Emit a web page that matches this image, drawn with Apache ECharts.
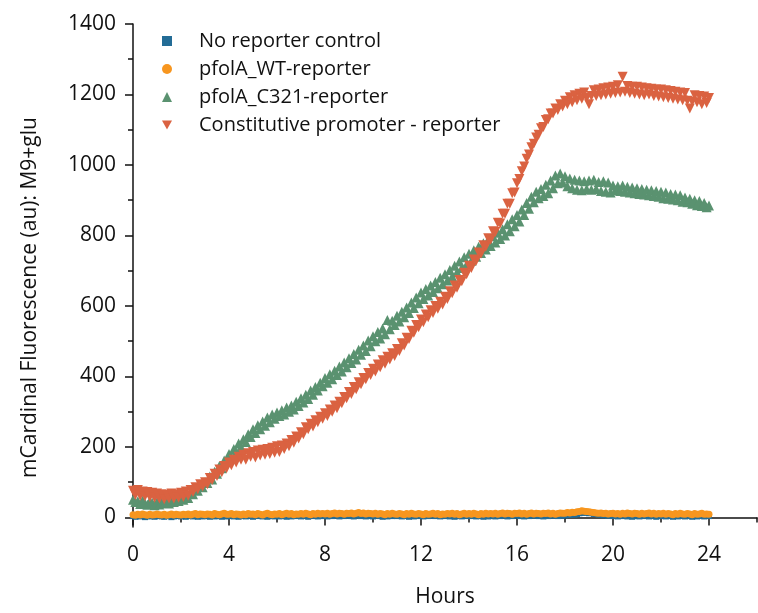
<!DOCTYPE html>
<html>
<head>
<meta charset="utf-8">
<script src="https://cdn.jsdelivr.net/npm/echarts@6/dist/echarts.min.js"></script>
<style>
  html, body { margin: 0; padding: 0; background: #fff; }
  #chart { width: 758px; height: 613px; }
</style>
</head>
<body>
<div id="chart"></div>
<script>
// plate reader time points (hours), one row per hour
let hours = [
  0,0.1,0.2,0.3,0.4,0.5,0.6,0.7,0.8,0.9,
  1,1.1,1.2,1.3,1.4,1.5,1.6,1.7,1.8,1.9,
  2,2.1,2.2,2.3,2.4,2.5,2.6,2.7,2.8,2.9,
  3,3.1,3.2,3.3,3.4,3.5,3.6,3.7,3.8,3.9,
  4,4.1,4.2,4.3,4.4,4.5,4.6,4.7,4.8,4.9,
  5,5.1,5.2,5.3,5.4,5.5,5.6,5.7,5.8,5.9,
  6,6.1,6.2,6.3,6.4,6.5,6.6,6.7,6.8,6.9,
  7,7.1,7.2,7.3,7.4,7.5,7.6,7.7,7.8,7.9,
  8,8.1,8.2,8.3,8.4,8.5,8.6,8.7,8.8,8.9,
  9,9.1,9.2,9.3,9.4,9.5,9.6,9.7,9.8,9.9,
  10,10.1,10.2,10.3,10.4,10.5,10.6,10.7,10.8,10.9,
  11,11.1,11.2,11.3,11.4,11.5,11.6,11.7,11.8,11.9,
  12,12.1,12.2,12.3,12.4,12.5,12.6,12.7,12.8,12.9,
  13,13.1,13.2,13.3,13.4,13.5,13.6,13.7,13.8,13.9,
  14,14.1,14.2,14.3,14.4,14.5,14.6,14.7,14.8,14.9,
  15,15.1,15.2,15.3,15.4,15.5,15.6,15.7,15.8,15.9,
  16,16.1,16.2,16.3,16.4,16.5,16.6,16.7,16.8,16.9,
  17,17.1,17.2,17.3,17.4,17.5,17.6,17.7,17.8,17.9,
  18,18.1,18.2,18.3,18.4,18.5,18.6,18.7,18.8,18.9,
  19,19.1,19.2,19.3,19.4,19.5,19.6,19.7,19.8,19.9,
  20,20.1,20.2,20.3,20.4,20.5,20.6,20.7,20.8,20.9,
  21,21.1,21.2,21.3,21.4,21.5,21.6,21.7,21.8,21.9,
  22,22.1,22.2,22.3,22.4,22.5,22.6,22.7,22.8,22.9,
  23,23.1,23.2,23.3,23.4,23.5,23.6,23.7,23.8,23.9,
  24
];

let noReporter = [
  4,2,5,3,6,1,4,3,5,2,
  4,6,3,2,5,4,1,3,6,4,
  3,5,2,4,6,3,5,2,4,3,
  6,4,2,5,3,7,4,2,5,3,
  4,6,3,5,2,4,6,3,5,4,
  2,5,4,6,3,5,2,4,6,3,
  5,3,6,4,2,5,3,6,4,5,
  3,6,4,2,5,7,4,3,6,4,
  5,3,6,4,7,5,3,6,4,5,
  6,4,3,5,7,4,6,3,5,4,
  3,5,6,4,2,5,3,6,4,5,
  4,6,3,5,4,2,5,3,6,4,
  5,3,6,4,5,7,4,6,3,5,
  4,6,3,5,2,4,6,3,5,4,
  6,4,5,3,6,4,2,5,3,4,
  5,3,6,4,7,5,3,6,4,8,
  6,4,5,3,6,4,7,5,6,4,
  5,3,6,4,7,5,6,4,7,5,
  6,8,7,9,8,10,12,14,13,15,
  12,13,10,11,8,9,6,7,5,6,
  4,6,3,5,4,6,3,5,2,4,
  5,3,6,4,5,3,6,4,2,5,
  4,6,3,5,4,2,5,3,6,4,
  3,5,4,2,5,3,6,4,3,5,
  4
];

let wtReporter = [
  8,6,9,7,10,8,6,9,7,8,
  10,8,7,9,6,8,10,7,9,8,
  7,9,8,10,7,9,11,8,10,9,
  8,10,9,7,11,9,8,10,12,9,
  9,11,8,10,9,7,10,8,11,9,
  10,8,11,9,7,10,12,9,8,10,
  9,11,8,10,12,9,11,8,10,9,
  11,9,12,10,8,11,9,12,10,11,
  10,12,9,11,13,10,12,11,9,12,
  11,13,10,12,14,11,13,10,12,11,
  10,12,9,11,10,8,11,9,12,10,
  9,11,10,8,11,9,12,10,9,11,
  10,8,11,9,10,12,9,11,8,10,
  9,11,10,12,9,11,8,10,12,9,
  11,9,12,10,8,11,9,12,10,11,
  10,12,9,11,13,10,12,11,9,12,
  11,13,10,12,9,11,13,10,12,11,
  10,12,11,13,10,12,9,11,13,12,
  12,14,13,15,14,16,17,19,18,17,
  16,15,14,13,12,13,11,12,10,11,
  12,10,11,9,12,10,13,11,10,12,
  11,9,12,10,11,13,10,12,9,11,
  10,12,9,11,10,8,11,9,12,10,
  9,11,10,8,11,9,10,12,9,10,
  9
];

let c321Reporter = [
  50,44,46,38,48,40,36,46,42,35,
  44,37,45,41,48,40,50,44,52,47,
  58,50,62,55,70,66,78,76,90,86,
  100,98,116,108,130,124,146,140,162,158,
  180,172,194,186,210,200,222,214,236,228,
  250,240,262,250,272,260,284,270,292,280,
  298,288,304,292,312,300,318,306,328,316,
  338,326,348,336,360,348,370,360,382,372,
  396,382,406,392,416,404,428,414,440,426,
  452,438,464,448,476,462,488,472,502,486,
  514,500,526,508,536,520,560,534,558,546,
  572,556,584,568,596,580,610,594,624,608,
  638,620,648,630,658,640,668,650,680,662,
  690,672,702,684,714,696,726,708,738,718,
  748,728,758,740,768,750,778,760,788,770,
  798,780,808,790,818,800,832,812,846,826,
  858,840,874,858,892,876,910,894,924,906,
  932,912,944,920,956,934,970,948,976,950,
  968,940,962,934,958,930,956,928,954,932,
  956,930,958,932,952,926,954,924,950,922,
  942,928,940,926,942,924,938,922,936,920,
  934,918,932,916,930,914,928,912,926,910,
  924,906,922,904,918,902,916,900,914,896,
  908,894,904,890,900,886,898,884,892,880,
  885
];

let constitutive = [
  76,64,78,62,74,60,72,58,70,56,
  68,54,66,52,64,54,68,54,66,56,
  70,58,74,62,78,72,86,80,94,88,
  100,94,112,106,124,118,136,128,146,140,
  156,148,164,156,172,164,178,164,182,172,
  186,170,190,176,192,178,194,180,198,184,
  202,186,204,194,210,202,220,212,230,224,
  242,236,256,250,266,258,276,270,286,280,
  296,288,306,300,318,310,328,324,342,338,
  356,350,370,364,384,378,396,392,410,404,
  422,414,434,426,446,436,456,448,466,458,
  478,472,494,488,510,506,530,524,546,540,
  562,554,576,568,588,580,600,592,612,604,
  626,620,642,636,658,652,674,670,694,690,
  714,708,732,728,752,748,772,768,792,788,
  812,810,836,834,862,862,890,890,920,922,
  948,960,982,996,1018,1030,1050,1060,1078,1086,
  1104,1108,1128,1130,1146,1146,1160,1156,1172,1166,
  1182,1172,1192,1178,1198,1184,1202,1188,1206,1190,
  1172,1196,1212,1196,1214,1198,1218,1200,1220,1202,
  1222,1204,1226,1206,1250,1208,1224,1204,1222,1202,
  1222,1200,1220,1198,1218,1200,1216,1196,1214,1194,
  1214,1192,1212,1190,1210,1188,1208,1186,1206,1184,
  1204,1182,1160,1180,1198,1178,1196,1172,1194,1176,
  1190
];

let seriesNames = ['No reporter control', 'pfolA_WT-reporter', 'pfolA_C321-reporter', 'Constitutive promoter - reporter'];
let xLabels = [0, 4, 8, 12, 16, 20, 24];
let xMinor = [2, 6, 10, 14, 18, 22, 26];
let yLabels = [0, 200, 400, 600, 800, 1000, 1200, 1400];
let yMinor = [100, 300, 500, 700, 900, 1100, 1300];

function pairs(ys) {
  return hours.map((h, i) => [h, ys[i]]);
}

let font = '"Open Sans", sans-serif';
let downTri = 'path://M0,0L10,0L5,9Z';
let myChart = echarts.init(document.getElementById('chart'));

myChart.setOption({
  animation: false,
  textStyle: { fontFamily: font },
  grid: { left: 133, right: 1, top: 24, bottom: 83 },
  legend: {
    orient: 'vertical',
    left: 157,
    top: 25,
    itemWidth: 10,
    itemHeight: 10,
    itemGap: 6,
    textStyle: { fontSize: 20, color: '#111', lineHeight: 22, padding: [0, 0, 0, 22], fontFamily: font },
    data: [
      { name: seriesNames[0], icon: 'rect' },
      { name: seriesNames[1], icon: 'circle' },
      { name: seriesNames[2], icon: 'triangle' },
      { name: seriesNames[3], icon: downTri }
    ]
  },
  xAxis: [
    {
      type: 'value', min: 0, max: 26,
      name: 'Hours', nameLocation: 'middle', nameGap: 60,
      nameTextStyle: { fontSize: 21, color: '#111' },
      splitLine: { show: false },
      axisLine: { lineStyle: { color: '#111', width: 1.5 } },
      axisTick: { length: 8, lineStyle: { width: 1.5, color: '#111' }, customValues: xLabels },
      axisLabel: { fontSize: 21, color: '#111', margin: 18, customValues: xLabels }
    },
    {
      type: 'value', min: 0, max: 26, position: 'bottom',
      splitLine: { show: false },
      axisLine: { show: false },
      axisTick: { length: 5, lineStyle: { width: 1.5, color: '#111' }, customValues: xMinor },
      axisLabel: { show: false }
    }
  ],
  yAxis: [
    {
      type: 'value', min: -27, max: 1400,
      name: 'mCardinal Fluorescence (au): M9+glu', nameLocation: 'middle', nameGap: 92,
      nameTextStyle: { fontSize: 21, color: '#111', padding: [0, 44, 0, 0] },
      splitLine: { show: false },
      axisLine: { show: true, lineStyle: { color: '#111', width: 1.5 } },
      axisTick: { show: true, length: 8, lineStyle: { width: 1.5, color: '#111' }, customValues: yLabels },
      axisLabel: { fontSize: 21, color: '#111', margin: 17, customValues: yLabels, formatter: v => String(v) }
    },
    {
      type: 'value', min: -27, max: 1400, position: 'left',
      splitLine: { show: false },
      axisLine: { show: false },
      axisTick: { show: true, length: 5, lineStyle: { width: 1.5, color: '#111' }, customValues: yMinor },
      axisLabel: { show: false }
    }
  ],
  series: [
    {
      name: seriesNames[0], type: 'scatter', symbol: 'rect', symbolSize: 6,
      itemStyle: { color: '#236c96', opacity: 1 },
      data: pairs(noReporter)
    },
    {
      name: seriesNames[1], type: 'scatter', symbol: 'circle', symbolSize: 7,
      itemStyle: { color: '#f7961f', opacity: 1 },
      data: pairs(wtReporter)
    },
    {
      name: seriesNames[2], type: 'scatter', symbol: 'triangle', symbolSize: 10,
      itemStyle: { color: '#5a9270', opacity: 1 },
      data: pairs(c321Reporter)
    },
    {
      name: seriesNames[3], type: 'scatter', symbol: 'triangle', symbolRotate: 180, symbolSize: 10,
      itemStyle: { color: '#da6241', opacity: 1 },
      data: pairs(constitutive)
    }
  ]
});
</script>
</body>
</html>
